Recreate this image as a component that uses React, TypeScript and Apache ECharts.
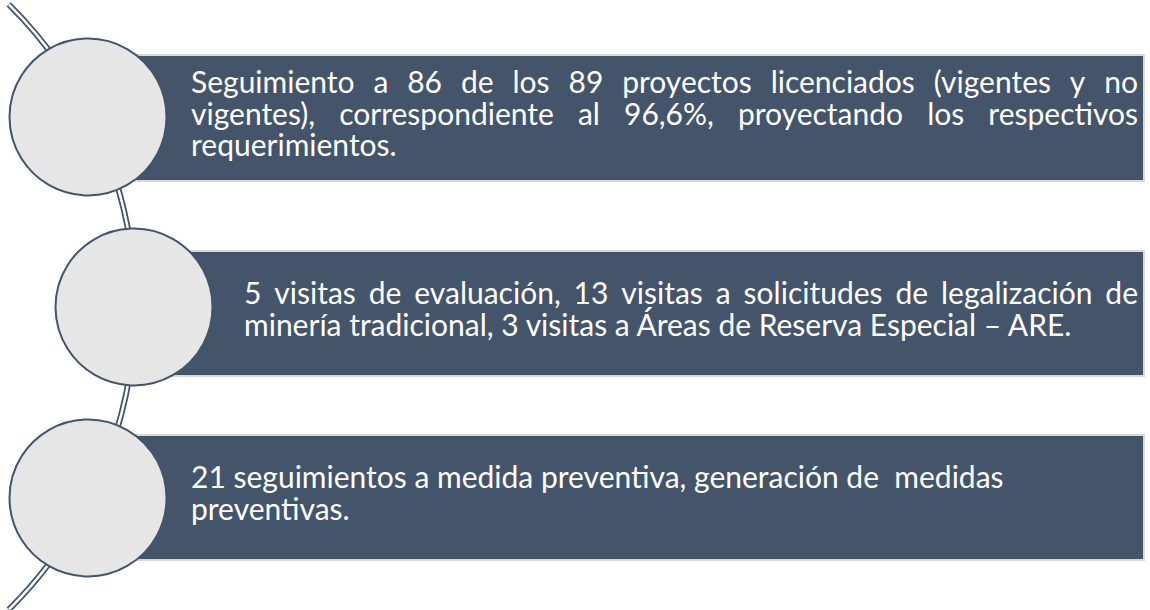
import React, { useEffect, useRef } from "react";
import * as echarts from "echarts";

// ---- content ----
const box1Lines = [
  "Seguimiento a 86 de los 89 proyectos licenciados (vigentes y no",
  "vigentes), correspondiente al 96,6%, proyectando los respectivos",
  "requerimientos.",
];
const box1Justify = [true, true, false];

const box2Lines = [
  "5 visitas de evaluación, 13 visitas a solicitudes de legalización de",
  "minería tradicional, 3 visitas a Áreas de Reserva Especial – ARE.",
];
const box2Justify = [true, false];

const box3Lines = [
  "21 seguimientos a medida preventiva, generación de  medidas",
  "preventivas.",
];
const box3Justify = [false, false];

// ---- layout ----
const W = 1150;
const H = 610;
const FONT_FAMILY = "Lato";
const FONT_SIZE = 30;
const LINE_GAP = 31.5;
const DARK = "#44546a";
const CIRCLE_FILL = "#e6e6e6";
const BOX_BORDER = "#d9d9d9";

const rows = [
  { lines: box1Lines, justify: box1Justify, cx: 88, cy: 117, boxTop: 55, boxBottom: 181, textLeft: 191, firstBaseline: 92 },
  { lines: box2Lines, justify: box2Justify, cx: 134, cy: 307, boxTop: 251, boxBottom: 376, textLeft: 244, firstBaseline: 303 },
  { lines: box3Lines, justify: box3Justify, cx: 88, cy: 498, boxTop: 435, boxBottom: 560, textLeft: 191, firstBaseline: 487 },
];
const BOX_RIGHT = 1144;
const TEXT_RIGHT = 1138;
const CIRCLE_R = 78.5;

function measurer() {
  const c = document.createElement("canvas");
  const ctx = c.getContext("2d")!;
  ctx.font = `${FONT_SIZE}px ${FONT_FAMILY}`;
  return (s: string) => ctx.measureText(s).width;
}

export default function App() {
  const ref = useRef<HTMLDivElement>(null);
  useEffect(() => {
    if (!ref.current) return;
    const chart = echarts.init(ref.current, null, { renderer: "svg" });
    const measure = measurer();
    const els: any[] = [];

    // connecting arc (double line)
    const arcC = { cx: -291, cy: 307, r: 426 };
    els.push({
      type: "arc",
      shape: { ...arcC, startAngle: -Math.PI / 4 - 0.005, endAngle: Math.PI / 4 + 0.005, clockwise: true },
      style: { stroke: DARK, lineWidth: 6, fill: null },
      z: 1,
    });
    els.push({
      type: "arc",
      shape: { ...arcC, startAngle: -Math.PI / 4 - 0.004, endAngle: Math.PI / 4 + 0.004, clockwise: true },
      style: { stroke: "#ffffff", lineWidth: 2.5, fill: null },
      z: 2,
    });

    const textStyle = (text: string) => ({
      text,
      fill: "#ffffff",
      fontFamily: FONT_FAMILY,
      fontSize: FONT_SIZE,
      verticalAlign: "middle",
      align: "left",
    });

    rows.forEach((row) => {
      els.push({
        type: "rect",
        shape: { x: row.cx, y: row.boxTop, width: BOX_RIGHT - row.cx, height: row.boxBottom - row.boxTop },
        style: { fill: DARK, stroke: BOX_BORDER, lineWidth: 2 },
        z: 3,
      });
      els.push({
        type: "circle",
        shape: { cx: row.cx, cy: row.cy, r: CIRCLE_R },
        style: { fill: CIRCLE_FILL, stroke: DARK, lineWidth: 2 },
        z: 5,
      });
      row.lines.forEach((line, i) => {
        const y = row.firstBaseline + i * LINE_GAP - FONT_SIZE * 0.36;
        if (row.justify[i]) {
          const words = line.split(/\s+/);
          const widths = words.map(measure);
          const total = widths.reduce((a, b) => a + b, 0);
          const gap = (TEXT_RIGHT - row.textLeft - total) / (words.length - 1);
          let x = row.textLeft;
          words.forEach((w, k) => {
            els.push({ type: "text", x, y, style: textStyle(w), z: 6 });
            x += widths[k] + gap;
          });
        } else {
          els.push({ type: "text", x: row.textLeft, y, style: textStyle(line), z: 6 });
        }
      });
    });

    chart.setOption({
      animation: false,
      backgroundColor: "#ffffff",
      graphic: { elements: els },
    });
    return () => chart.dispose();
  }, []);
  return <div ref={ref} style={{ width: W, height: H, position: "absolute", left: 0, top: 0 }} />;
}
